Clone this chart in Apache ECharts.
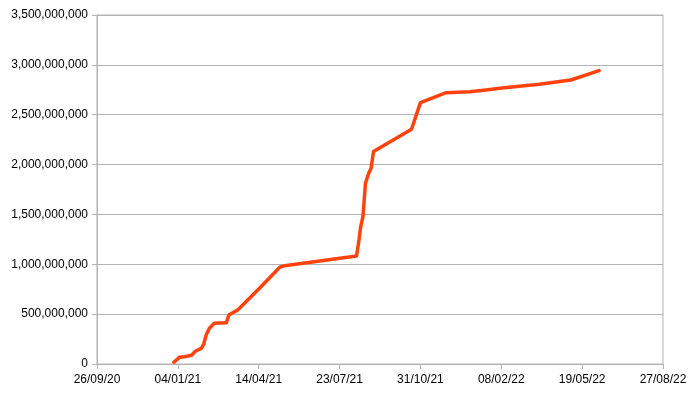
<!DOCTYPE html>
<html>
<head>
<meta charset="utf-8">
<script src="https://cdn.jsdelivr.net/npm/echarts@6/dist/echarts.min.js"></script>
<style>html,body{margin:0;padding:0;background:#fff;}#c{width:700px;height:394px;}</style>
</head>
<body>
<div id="c"></div>
<script>
var dates = ["2020-12-30","2021-01-06","2021-01-12","2021-01-21","2021-01-26","2021-02-02","2021-02-05","2021-02-08","2021-02-12","2021-02-18","2021-03-05","2021-03-08","2021-03-19","2021-04-15","2021-05-10","2021-05-16","2021-08-13","2021-08-16","2021-08-18","2021-08-21","2021-08-24","2021-08-28","2021-08-31","2021-09-03","2021-10-20","2021-10-31","2021-12-02","2021-12-31","2022-01-20","2022-02-06","2022-03-27","2022-05-05","2022-06-09"];
var values = [17e6,67e6,73e6,87e6,130e6,157e6,200e6,291e6,358e6,408e6,414e6,491e6,542e6,759e6,970e6,986e6,1083e6,1244e6,1371e6,1484e6,1812e6,1913e6,1963e6,2130e6,2354e6,2621e6,2721e6,2731e6,2748e6,2765e6,2805e6,2848e6,2942e6];
var xStart = "2020-09-26";
var xEnd = "2022-08-27";
var xStepDays = 100;
var yMax = 3500000000;
var yStep = 500000000;

var DAY = 86400000;
function toUTC(s){var p=s.split("-");return Date.UTC(+p[0],+p[1]-1,+p[2]);}
var t0 = toUTC(xStart);
function dayOff(s){return Math.round((toUTC(s)-t0)/DAY);}
var seriesData = dates.map(function(d,i){return [dayOff(d), values[i]];});
function pad(n){return (n<10?"0":"")+n;}
function fmtDay(v){var d=new Date(t0+v*DAY);return pad(d.getUTCDate())+"/"+pad(d.getUTCMonth()+1)+"/"+pad(d.getUTCFullYear()%100);}
function fmtNum(v){return Math.round(v).toString().replace(/\B(?=(\d{3})+(?!\d))/g, ",");}

var chart = echarts.init(document.getElementById('c'), null, {renderer:'canvas'});
chart.setOption({
  animation:false,
  backgroundColor:'#ffffff',
  grid:{left:97,right:37,top:15,bottom:30,show:true,borderColor:'#b3b3b3',borderWidth:1,containLabel:false},
  xAxis:{type:'value',min:0,max:dayOff(xEnd),interval:xStepDays,
    axisLine:{show:true,lineStyle:{color:'#b3b3b3',width:1}},
    axisTick:{show:true,length:5,lineStyle:{color:'#b3b3b3'}},
    splitLine:{show:false},
    axisLabel:{formatter:fmtDay,color:'#000',fontFamily:'Liberation Sans',fontSize:12,margin:10}},
  yAxis:{type:'value',min:0,max:yMax,interval:yStep,
    axisLine:{show:true,lineStyle:{color:'#b3b3b3',width:1}},
    axisTick:{show:true,length:5,lineStyle:{color:'#b3b3b3'}},
    splitLine:{show:true,lineStyle:{color:'#b3b3b3',width:1}},
    axisLabel:{formatter:fmtNum,color:'#000',fontFamily:'Liberation Sans',fontSize:12,margin:9}},
  series:[{type:'line',data:seriesData,symbol:'none',smooth:false,
    lineStyle:{color:'#ff420e',width:3.5,join:'round',cap:'round'}}]
});
</script>
</body>
</html>
